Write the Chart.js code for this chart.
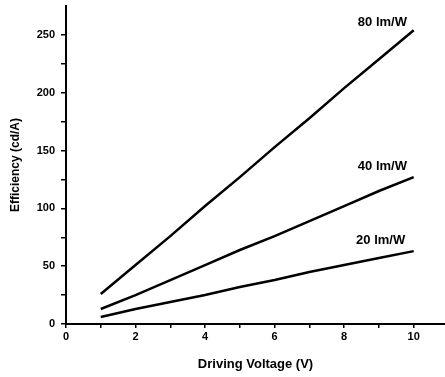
<!DOCTYPE html>
<html>
<head>
<meta charset="utf-8">
<script src="https://cdn.jsdelivr.net/npm/chart.js@4.4.1/dist/chart.umd.min.js"></script>
<style>
  html, body { margin: 0; padding: 0; background: #fff; }
  #wrap { width: 445px; height: 377px; }
</style>
</head>
<body>
<div id="wrap"><canvas id="grafico"></canvas></div>
<script>
// dados
const voltagem = [1, 2, 3, 4, 5, 6, 7, 8, 9, 10];
const ef80 = [26, 51, 76, 102, 127, 153, 178, 204, 229, 254];
const ef40 = [13, 25, 38, 51, 64, 76, 89, 102, 115, 127];
const ef20 = [6, 13, 19, 25, 32, 38, 45, 51, 57, 63];
const rotulos = ['80 lm/W', '40 lm/W', '20 lm/W'];
const rotuloX = [9.1, 9.1, 9.05];
const rotuloY = [261, 136, 72];
const ticksX = [0, 1, 2, 3, 4, 5, 6, 7, 8, 9, 10];
const ticksY = [0, 25, 50, 75, 100, 125, 150, 175, 200, 225, 250];

const fonte = 'Liberation Sans, Arial, sans-serif';

function pontos(ys) {
  return voltagem.map((v, i) => ({ x: v, y: ys[i] }));
}

// escreve os nomes das curvas
const rotulosPlugin = {
  id: 'rotulos',
  afterDatasetsDraw(chart) {
    const ctx = chart.ctx;
    const sx = chart.scales.x, sy = chart.scales.y;
    ctx.save();
    ctx.fillStyle = '#000';
    ctx.font = 'bold 13px ' + fonte;
    ctx.textAlign = 'center';
    ctx.textBaseline = 'middle';
    rotulos.forEach((t, i) => {
      ctx.fillText(t, sx.getPixelForValue(rotuloX[i]), sy.getPixelForValue(rotuloY[i]));
    });
    ctx.restore();
  }
};

const ctx = document.getElementById('grafico').getContext('2d');
const grafico = new Chart(ctx, {
  type: 'line',
  data: {
    datasets: [
      { label: rotulos[0], data: pontos(ef80) },
      { label: rotulos[1], data: pontos(ef40) },
      { label: rotulos[2], data: pontos(ef20) }
    ].map(d => Object.assign(d, {
      borderColor: '#000',
      borderWidth: 2.5,
      pointRadius: 0,
      tension: 0,
      fill: false
    }))
  },
  options: {
    responsive: true,
    maintainAspectRatio: false,
    animation: false,
    layout: { padding: { top: 6, right: 0, left: 0, bottom: 0 } },
    plugins: {
      legend: { display: false },
      tooltip: { enabled: false }
    },
    scales: {
      x: {
        type: 'linear',
        min: 0,
        max: 10.9,
        afterBuildTicks: s => { s.ticks = ticksX.map(v => ({ value: v })); },
        afterFit: s => { s.height = 53; s.paddingRight = 0; },
        ticks: {
          autoSkip: false,
          maxRotation: 0,
          color: '#000',
          padding: 2,
          font: { family: fonte, size: 11, weight: 'bold' },
          callback: v => (v % 2 === 0 ? v : '')
        },
        grid: { drawOnChartArea: false, drawTicks: true, tickLength: 4, color: '#000', lineWidth: 1.5 },
        border: { display: true, color: '#000', width: 2 },
        title: {
          display: true,
          text: 'Driving Voltage (V)',
          color: '#000',
          font: { family: fonte, size: 13, weight: 'bold' },
          padding: { top: 4, bottom: 5 }
        }
      },
      y: {
        type: 'linear',
        min: 0,
        max: 275,
        afterBuildTicks: s => { s.ticks = ticksY.map(v => ({ value: v })); },
        afterFit: s => { s.width = 66; s.paddingTop = 0; s.paddingBottom = 0; },
        ticks: {
          autoSkip: false,
          color: '#000',
          padding: 6,
          font: { family: fonte, size: 11, weight: 'bold' },
          callback: v => (v % 50 === 0 ? v : '')
        },
        grid: { drawOnChartArea: false, drawTicks: true, tickLength: 5, color: '#000', lineWidth: 1.5 },
        border: { display: true, color: '#000', width: 2 },
        title: {
          display: true,
          text: 'Efficiency (cd/A)',
          color: '#000',
          font: { family: fonte, size: 12, weight: 'bold' },
          padding: { top: 8, bottom: 0 }
        }
      }
    }
  },
  plugins: [rotulosPlugin]
});
</script>
</body>
</html>
